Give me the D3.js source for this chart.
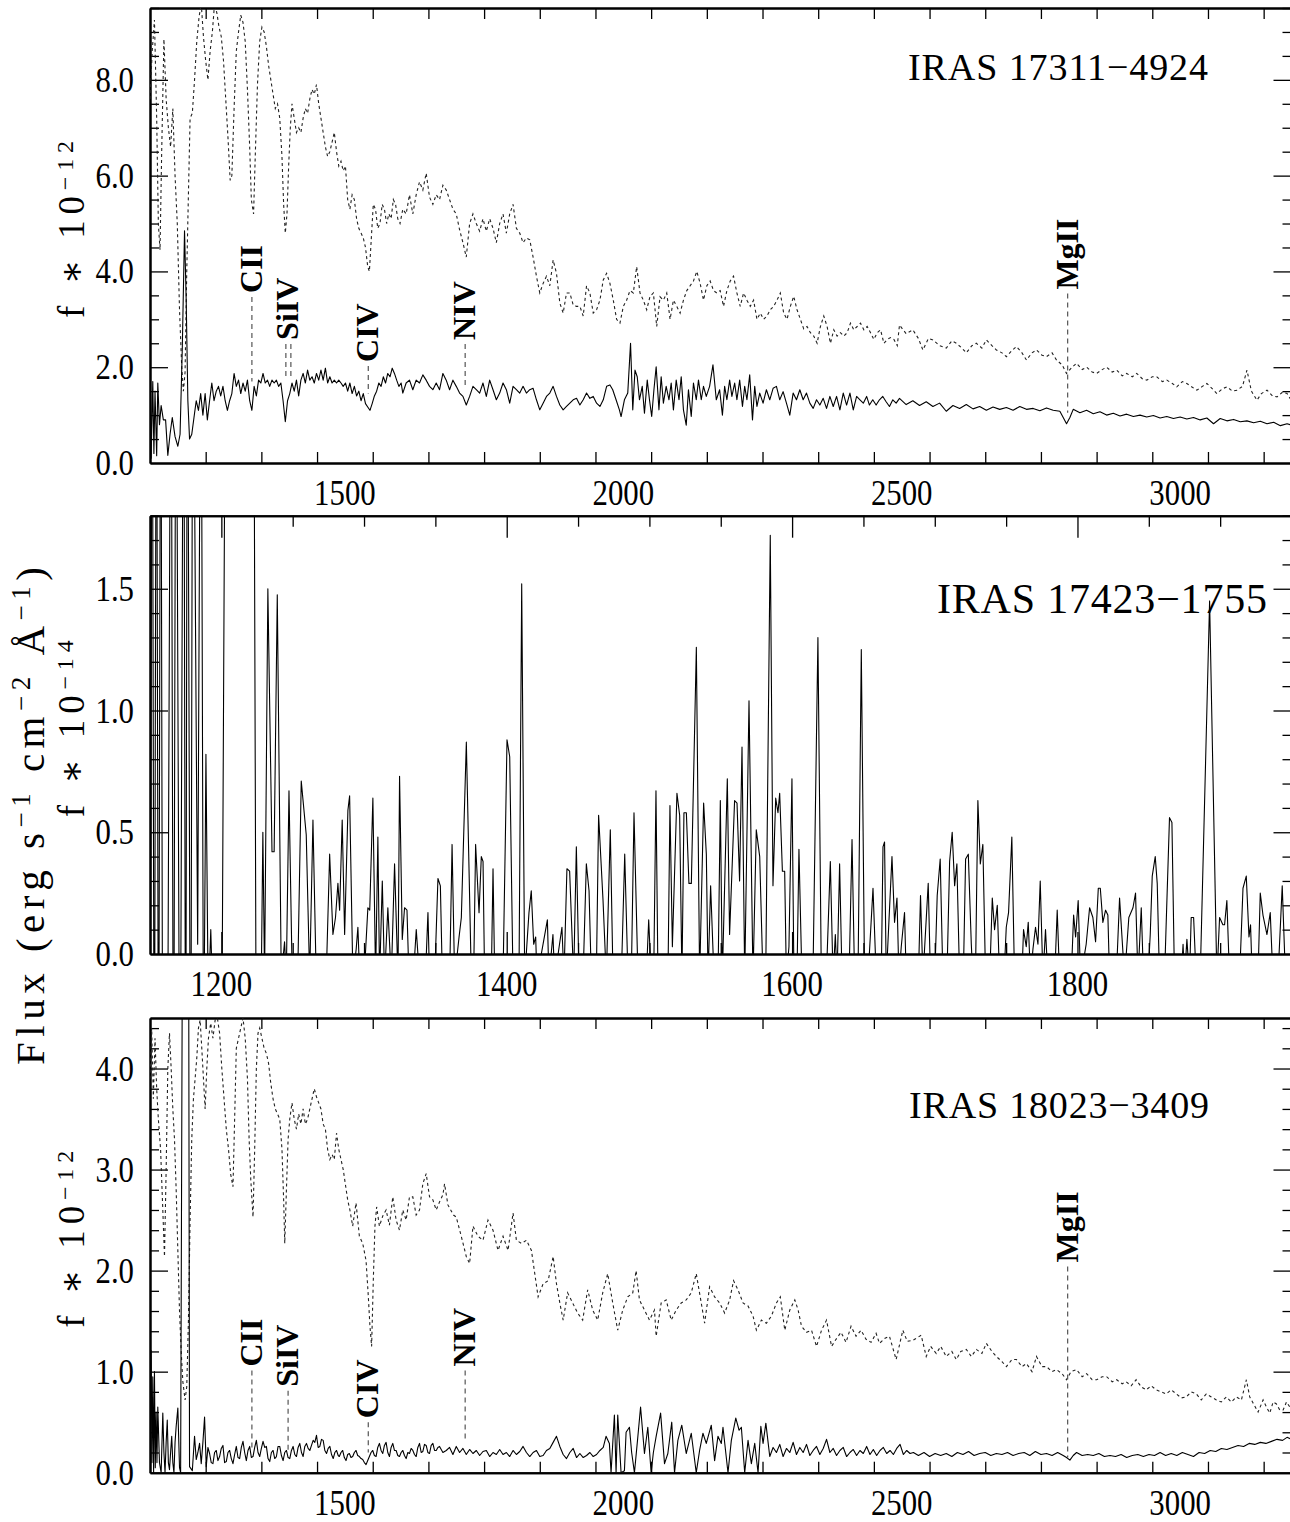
<!DOCTYPE html>
<html>
<head>
<meta charset="utf-8">
<script src="https://cdn.jsdelivr.net/npm/d3@7"></script>
<style>
  body { margin: 0; background: #fff; }
  text { font-family: "Liberation Serif", "DejaVu Serif", serif; fill: #000; }
</style>
</head>
<body>
<svg id="chart" width="1290" height="1522"></svg>
<script>
// ---- data (wavelength in A, flux in panel units) ----

var wideRange = [1150, 3200];
var narrowRange = [1150, 1950];
var wideXLabels = [1500, 2000, 2500, 3000];
var narrowXLabels = [1200, 1400, 1600, 1800];
var yLabels1 = [0, 2, 4, 6, 8];
var yLabels2 = [0, 0.5, 1.0, 1.5];
var yLabels3 = [0, 1, 2, 3, 4];
var yMax = [9.5, 1.8, 4.5];
var objectNames = ["IRAS 17311\u22124924", "IRAS 17423\u22121755", "IRAS 18023\u22123409"];
var fluxExponents = ["\u221212", "\u221214", "\u221212"];

var lineNames = ["CII", "SiIV", "CIV", "NIV", "MgII"];
var lineWaves = [1333, 1398, 1542, 1716, 2798];
var siivDoublet = [1394, 1403];
var idTop1 = [3.55, 2.57, 2.11, 2.57, 3.62];
var idEnd1 = [1.7, 1.8, 1.45, 1.55, 1.05];
var idTop3 = [1.05, 0.85, 0.54, 1.05, 2.08];
var idEnd3 = [0.22, 0.2, 0.2, 0.3, 0.15];

// IRAS 17311-4924: comparison (dotted) and object (solid)
var p1Dotted = [[1150,7.6],[1154,8.6],[1158,9.25],[1162,7.2],[1165,5.0],[1168,4.45],[1171,6.5],[1175,8.85],[1179,7.6],[1183,7.0],[1187,6.6],[1191,7.4],[1195,6.0],[1199,5.0],[1203,3.2],[1207,2.0],[1210,1.5],[1213,1.9],[1216,4.0],[1219,5.6],[1222,7.2],[1226,7.3],[1230,8.0],[1234,8.8],[1238,9.3],[1242,9.6],[1246,8.9],[1250,8.4],[1254,8.0],[1258,8.6],[1262,9.0],[1266,9.6],[1270,9.4],[1274,9.1],[1278,8.9],[1282,8.4],[1286,7.6],[1290,6.8],[1294,5.9],[1297,6.0],[1301,7.4],[1305,8.6],[1309,9.0],[1313,9.35],[1317,9.2],[1321,8.8],[1325,7.8],[1329,6.6],[1332,5.5],[1336,5.2],[1339,6.4],[1343,7.9],[1347,8.8],[1351,9.1],[1355,9.0],[1359,8.7],[1363,8.3],[1367,8.0],[1371,7.7],[1375,7.4],[1379,7.5],[1383,7.2],[1387,6.4],[1390,5.4],[1393,4.8],[1396,5.2],[1399,6.2],[1402,7.0],[1405,7.5],[1409,7.2],[1413,6.9],[1417,7.0],[1421,6.9],[1425,7.2],[1429,7.4],[1433,7.3],[1437,7.6],[1441,7.8],[1445,7.7],[1449,7.9],[1453,7.5],[1457,7.2],[1461,6.9],[1465,6.6],[1469,6.4],[1473,6.5],[1477,6.7],[1481,6.9],[1485,6.5],[1489,6.2],[1493,6.3],[1497,6.1],[1501,6.2],[1505,5.5],[1509,5.3],[1513,5.6],[1517,5.5],[1521,5.1],[1525,4.9],[1529,4.8],[1533,4.7],[1537,4.5],[1541,4.1],[1544,4.0],[1547,4.6],[1551,5.4],[1555,5.3],[1559,4.9],[1563,5.0],[1567,5.4],[1571,5.3],[1575,5.0],[1579,5.2],[1583,5.1],[1587,5.5],[1591,5.4],[1595,5.1],[1599,5.0],[1604,5.3],[1610,5.2],[1616,5.6],[1622,5.2],[1628,5.6],[1634,5.87],[1640,5.7],[1646,6.05],[1652,5.55],[1658,5.4],[1664,5.6],[1670,5.5],[1676,5.8],[1682,5.7],[1688,5.5],[1694,5.3],[1700,5.2],[1706,4.87],[1712,4.6],[1718,4.3],[1724,5.0],[1730,5.2],[1736,5.0],[1742,4.84],[1748,5.1],[1754,4.84],[1760,5.1],[1766,4.9],[1772,4.6],[1778,5.0],[1784,5.2],[1790,4.8],[1796,5.2],[1802,5.4],[1808,4.9],[1814,4.8],[1820,4.6],[1826,4.7],[1832,4.66],[1838,4.3],[1844,3.9],[1850,3.55],[1856,3.75],[1862,3.9],[1868,3.7],[1874,4.24],[1880,3.96],[1886,3.34],[1892,3.13],[1898,3.55],[1904,3.55],[1910,3.3],[1916,3.27],[1922,3.27],[1928,3.07],[1934,3.7],[1940,3.55],[1946,3.13],[1952,3.2],[1958,3.4],[1964,3.82],[1970,3.96],[1976,3.75],[1982,3.4],[1988,3.0],[1994,2.92],[2000,3.27],[2006,3.4],[2012,3.6],[2018,3.55],[2024,4.1],[2030,3.55],[2036,3.4],[2042,3.2],[2048,3.48],[2054,3.55],[2060,2.85],[2066,3.47],[2072,3.4],[2078,3.55],[2084,3.0],[2090,3.4],[2096,3.27],[2102,3.13],[2108,3.4],[2114,3.6],[2120,3.7],[2126,3.8],[2132,4.0],[2138,3.75],[2144,3.4],[2150,3.7],[2156,3.8],[2162,3.6],[2168,3.55],[2174,3.6],[2180,3.27],[2186,3.6],[2192,3.8],[2198,3.9],[2204,3.55],[2210,3.27],[2216,3.55],[2222,3.4],[2228,3.27],[2234,3.4],[2240,3.0],[2246,3.13],[2252,3.0],[2258,3.07],[2264,3.2],[2270,3.27],[2276,3.4],[2282,3.55],[2288,3.13],[2294,3.0],[2300,3.27],[2306,3.48],[2312,3.2],[2318,3.0],[2324,2.8],[2330,2.85],[2336,2.72],[2342,2.65],[2348,2.5],[2354,2.85],[2360,3.07],[2366,2.85],[2372,2.5],[2378,2.78],[2384,2.65],[2390,2.72],[2396,2.65],[2402,2.72],[2408,2.92],[2414,2.78],[2420,2.85],[2426,2.92],[2432,2.78],[2438,2.85],[2444,2.72],[2450,2.58],[2456,2.72],[2462,2.78],[2468,2.5],[2474,2.58],[2480,2.62],[2486,2.58],[2492,2.45],[2496,2.88],[2508,2.7],[2520,2.78],[2530,2.6],[2538,2.36],[2548,2.6],[2556,2.57],[2568,2.45],[2580,2.4],[2590,2.55],[2598,2.5],[2608,2.4],[2616,2.3],[2626,2.45],[2634,2.5],[2644,2.4],[2652,2.57],[2662,2.45],[2670,2.36],[2680,2.3],[2688,2.22],[2698,2.35],[2706,2.43],[2716,2.3],[2724,2.15],[2734,2.3],[2742,2.36],[2752,2.25],[2760,2.22],[2770,2.3],[2778,2.15],[2788,2.05],[2796,1.87],[2806,2.0],[2814,2.08],[2824,1.95],[2832,2.0],[2842,1.9],[2850,1.87],[2860,1.95],[2868,2.0],[2878,1.9],[2886,1.94],[2896,1.82],[2904,1.87],[2914,1.8],[2922,1.87],[2932,1.76],[2940,1.73],[2950,1.8],[2958,1.8],[2968,1.7],[2976,1.73],[2986,1.66],[2994,1.59],[3004,1.7],[3012,1.66],[3022,1.58],[3030,1.52],[3040,1.6],[3048,1.66],[3058,1.55],[3066,1.45],[3076,1.55],[3084,1.59],[3094,1.5],[3102,1.52],[3112,1.6],[3120,1.94],[3128,1.5],[3138,1.31],[3146,1.45],[3156,1.52],[3166,1.4],[3174,1.38],[3184,1.48],[3192,1.45],[3200,1.3]];

var p1Solid = [[1150,2.4],[1152,0.1],[1155,1.7],[1157,0.2],[1159,1.5],[1162,0.15],[1164,1.67],[1167,0.8],[1170,1.2],[1174,0.9],[1178,0.9],[1182,0.16],[1186,0.6],[1190,0.95],[1195,0.55],[1200,0.35],[1204,0.6],[1208,2.4],[1212,4.85],[1215,3.4],[1218,1.3],[1221,0.5],[1225,0.6],[1229,0.95],[1233,1.3],[1237,1.1],[1241,1.45],[1245,1.0],[1249,1.45],[1253,0.9],[1257,1.3],[1261,1.67],[1265,1.3],[1269,1.5],[1273,1.6],[1277,1.4],[1281,1.6],[1285,1.3],[1289,1.1],[1293,1.3],[1297,1.45],[1301,1.87],[1305,1.6],[1309,1.73],[1313,1.45],[1317,1.67],[1321,1.5],[1325,1.73],[1329,1.3],[1333,1.1],[1337,1.6],[1341,1.4],[1345,1.73],[1349,1.67],[1353,1.87],[1357,1.67],[1361,1.73],[1365,1.6],[1369,1.73],[1373,1.67],[1377,1.73],[1381,1.6],[1385,1.67],[1389,1.3],[1393,0.86],[1397,1.3],[1401,1.45],[1405,1.67],[1409,1.5],[1413,1.73],[1417,1.4],[1421,1.73],[1425,1.87],[1429,1.67],[1433,1.94],[1437,1.73],[1441,1.8],[1445,1.67],[1449,1.87],[1453,1.73],[1457,1.94],[1461,1.73],[1465,1.98],[1469,1.67],[1473,1.8],[1477,1.67],[1481,1.73],[1485,1.67],[1489,1.73],[1493,1.67],[1497,1.6],[1501,1.67],[1505,1.5],[1509,1.67],[1513,1.45],[1517,1.6],[1521,1.4],[1525,1.5],[1529,1.3],[1533,1.45],[1537,1.24],[1541,1.17],[1545,1.1],[1549,1.24],[1553,1.4],[1557,1.5],[1561,1.67],[1565,1.6],[1569,1.8],[1573,1.67],[1577,1.87],[1581,1.8],[1585,1.98],[1589,1.87],[1593,1.73],[1597,1.6],[1601,1.67],[1604,1.46],[1610,1.67],[1616,1.73],[1622,1.53],[1628,1.73],[1634,1.67],[1640,1.84],[1646,1.73],[1652,1.6],[1658,1.53],[1664,1.67],[1670,1.53],[1676,1.87],[1682,1.73],[1688,1.53],[1694,1.73],[1700,1.6],[1706,1.46],[1712,1.39],[1718,1.21],[1724,1.39],[1730,1.6],[1736,1.53],[1742,1.46],[1748,1.67],[1754,1.39],[1760,1.73],[1766,1.53],[1772,1.32],[1778,1.46],[1784,1.67],[1790,1.53],[1796,1.25],[1802,1.6],[1808,1.53],[1814,1.46],[1820,1.6],[1826,1.46],[1832,1.53],[1838,1.56],[1844,1.32],[1850,1.11],[1856,1.25],[1862,1.39],[1868,1.46],[1874,1.6],[1880,1.39],[1886,1.21],[1892,1.11],[1898,1.18],[1904,1.25],[1910,1.32],[1916,1.35],[1922,1.21],[1928,1.32],[1934,1.46],[1940,1.35],[1946,1.39],[1952,1.25],[1958,1.18],[1964,1.32],[1970,1.6],[1976,1.63],[1981,1.53],[1987,1.32],[1993,1.11],[1996,0.97],[2002,1.32],[2008,1.46],[2013,2.5],[2017,1.11],[2021,1.94],[2025,1.8],[2029,1.32],[2034,1.6],[2038,1.04],[2043,1.73],[2047,1.32],[2051,0.97],[2055,1.53],[2059,2.01],[2064,1.11],[2068,1.8],[2072,1.25],[2077,1.6],[2082,1.32],[2086,1.67],[2090,1.11],[2095,1.73],[2100,1.32],[2104,1.8],[2108,1.11],[2113,0.79],[2117,1.53],[2122,0.97],[2126,1.67],[2131,1.32],[2135,1.73],[2140,1.32],[2144,1.6],[2149,1.39],[2155,1.6],[2161,2.05],[2167,1.32],[2173,1.53],[2178,1.0],[2182,1.6],[2186,1.32],[2191,1.73],[2195,1.39],[2200,1.67],[2204,1.32],[2209,1.73],[2214,1.18],[2218,1.6],[2222,1.32],[2227,1.84],[2232,0.9],[2236,1.6],[2240,1.18],[2245,1.46],[2251,1.25],[2257,1.53],[2263,1.32],[2269,1.56],[2275,1.6],[2281,1.32],[2287,1.49],[2293,1.25],[2299,1.0],[2305,1.46],[2311,1.32],[2317,1.53],[2323,1.32],[2329,1.46],[2335,1.25],[2341,1.14],[2347,1.32],[2353,1.21],[2359,1.35],[2365,1.14],[2371,1.39],[2377,1.18],[2383,1.39],[2389,1.11],[2395,1.46],[2401,1.21],[2407,1.46],[2413,1.11],[2419,1.39],[2425,1.32],[2431,1.25],[2437,1.39],[2442,1.21],[2448,1.32],[2454,1.21],[2460,1.32],[2466,1.39],[2472,1.28],[2478,1.18],[2484,1.32],[2490,1.25],[2496,1.35],[2508,1.22],[2520,1.3],[2532,1.2],[2544,1.28],[2556,1.18],[2568,1.25],[2580,1.08],[2592,1.2],[2604,1.14],[2616,1.22],[2628,1.13],[2640,1.18],[2652,1.1],[2664,1.17],[2676,1.12],[2688,1.16],[2700,1.1],[2712,1.18],[2724,1.12],[2736,1.14],[2748,1.09],[2760,1.15],[2772,1.1],[2784,1.08],[2790,0.95],[2796,0.82],[2802,0.95],[2808,1.12],[2820,1.05],[2832,1.1],[2844,1.03],[2856,1.07],[2868,1.0],[2880,1.04],[2892,0.98],[2904,1.02],[2916,0.97],[2928,1.0],[2940,0.96],[2952,0.99],[2964,0.94],[2976,0.97],[2988,0.93],[3000,0.96],[3012,0.92],[3024,0.95],[3036,0.9],[3048,0.94],[3060,0.82],[3072,0.93],[3084,0.88],[3096,0.91],[3108,0.86],[3120,0.88],[3132,0.84],[3144,0.87],[3156,0.82],[3168,0.85],[3180,0.78],[3192,0.82],[3200,0.79]];

// IRAS 17423-1755: object only
var p2Solid = [[1150,-1],[1151.5,3],[1153,-1],[1154.5,3],[1156,-1],[1157.5,3],[1159,-1],[1162,-1],[1164.7,3],[1166.5,-1],[1168.2,3],[1171,-1],[1173.6,3],[1175,-1],[1176.2,3],[1178.5,-1],[1180,3],[1183.4,0.04],[1185.7,3],[1187.5,-0.5],[1189.2,0.82],[1190.8,-0.2],[1192.6,0.1],[1194,-0.2],[1200.5,-0.2],[1203.2,3],[1222.5,3],[1224.3,-0.2],[1228,-0.1],[1229.1,0.5],[1230.3,-0.1],[1232.6,1.5],[1235.5,0.42],[1237,0.42],[1239.2,1.475],[1242,-0.1],[1244.3,0.05],[1245.5,-0.1],[1247.4,0.67],[1249.7,-0.1],[1253.5,-0.1],[1256,0.71],[1259.5,0.49],[1261.9,-0.1],[1264.2,0.55],[1266.5,-0.1],[1273.5,-0.1],[1275.9,0.41],[1278.2,0.08],[1280,0.15],[1281.7,0.29],[1282.9,0.18],[1284.7,0.55],[1286.4,0.08],[1288.7,0.59],[1289.9,0.65],[1292.2,-0.1],[1294.5,0.02],[1295.7,0.11],[1297,-0.1],[1300.5,-0.05],[1302.7,0.19],[1304,0.18],[1306.2,0.64],[1308.1,-0.1],[1309.7,0.48],[1310.9,-0.1],[1312.8,0.3],[1314.4,-0.1],[1316.7,0.19],[1319.1,-0.1],[1321.4,0.37],[1323.8,-0.1],[1324.9,0.73],[1326.8,0.06],[1328.4,0.19],[1330.1,0.18],[1331.5,-0.1],[1334.5,-0.1],[1336.6,0.1],[1338.9,-0.1],[1343,-0.1],[1344.8,0.17],[1345.9,-0.1],[1349.5,-0.1],[1351.8,0.31],[1353.5,0.28],[1354.9,-0.1],[1360,-0.1],[1361.7,0.45],[1363.5,-0.1],[1366.6,0.07],[1368.2,0.15],[1371.7,0.87],[1375.2,-0.1],[1376.8,-0.1],[1378.2,0.45],[1380.6,0.17],[1382.2,0.4],[1383.4,0.38],[1384.5,-0.1],[1389.2,-0.1],[1390.4,0.35],[1391.6,-0.1],[1397.4,-0.1],[1400.2,0.88],[1402.1,0.81],[1404.4,-0.1],[1408.6,-0.1],[1410.5,1.52],[1412.6,-0.1],[1415.6,0.17],[1417.2,0.26],[1418.9,0.04],[1420.3,0.07],[1421.2,-0.1],[1428.5,0.14],[1429.6,-0.1],[1432.4,0.08],[1433.6,-0.1],[1438.7,0.11],[1440.1,-0.1],[1442.2,0.35],[1444.1,0.34],[1446.9,-0.1],[1448.8,0.44],[1450.7,-0.1],[1453.5,-0.1],[1455.8,0.37],[1457.7,0.26],[1459.3,-0.1],[1462.8,-0.1],[1464.4,0.57],[1467.5,0.22],[1469.8,-0.1],[1472.6,0.51],[1474.5,-0.1],[1480.3,-0.1],[1482.7,0.41],[1485,-0.1],[1487.3,-0.1],[1489.2,0.58],[1492,-0.1],[1497.8,-0.1],[1499.5,0.14],[1501.3,-0.1],[1503,-0.1],[1504.6,0.67],[1506,-0.1],[1513,-0.1],[1514.4,0.61],[1516.1,0.03],[1519.3,0.66],[1521.2,0.57],[1522.8,-0.1],[1524.2,0.58],[1525.9,0.58],[1527.7,0.29],[1529.4,0.29],[1532.9,1.26],[1535.2,-0.1],[1538,0.62],[1539.9,0.41],[1541.1,-0.1],[1542.9,0.28],[1545.3,-0.1],[1548.1,-0.1],[1549.7,0.63],[1551.1,-0.1],[1554.6,0.72],[1556.2,0.08],[1559.7,0.63],[1561.4,0.62],[1563.2,0.3],[1564.9,0.85],[1566.8,-0.1],[1569.8,1.04],[1572.6,-0.1],[1574.9,0.51],[1577.3,0.4],[1579.6,-0.1],[1581.5,-0.1],[1584.7,1.72],[1586.6,0.28],[1588.5,0.64],[1590.1,0.58],[1591.3,0.66],[1593.2,0.34],[1594.8,0.34],[1596,-0.1],[1597.8,0.03],[1599.9,0.72],[1601.3,-0.1],[1603.4,-0.1],[1604.8,0.43],[1606.9,-0.1],[1614.6,-0.1],[1618.1,1.3],[1620.5,-0.1],[1624,-0.1],[1626.8,0.38],[1628.7,-0.1],[1630.3,0.08],[1631.5,-0.1],[1633.3,0.37],[1635,-0.1],[1639.9,-0.1],[1642,0.47],[1643.8,-0.1],[1646.2,-0.1],[1648.5,1.25],[1650.8,-0.1],[1653.2,-0.1],[1656.7,0.27],[1659,-0.1],[1662.5,-0.1],[1663.7,0.44],[1664.8,0.46],[1666,-0.1],[1670,0.4],[1671.8,0.13],[1673.5,0.23],[1674.9,-0.1],[1676.5,0.03],[1678.8,0.17],[1680,-0.1],[1688.5,-0.1],[1690,0.24],[1691.7,-0.1],[1695.4,0.29],[1697,-0.1],[1700.5,0.0],[1701.7,0.24],[1703.8,0.39],[1705.7,-0.1],[1708.5,-0.1],[1710.4,0.38],[1712.2,0.5],[1713.9,0.28],[1715.5,0.37],[1717.4,-0.1],[1720,-0.1],[1721.6,0.39],[1723.5,0.41],[1725.6,0.04],[1726.7,-0.1],[1728.5,-0.1],[1730.2,0.63],[1731.9,0.37],[1733.7,0.45],[1735.6,-0.1],[1738.5,-0.1],[1740.3,0.23],[1741.9,0.1],[1743.8,0.2],[1745.4,-0.1],[1748.5,-0.1],[1750.1,0.11],[1751.7,0.17],[1754,0.48],[1755.9,-0.1],[1761,-0.1],[1762.2,0.1],[1764.1,0.03],[1765.5,0.13],[1767.1,-0.1],[1768.8,0.02],[1770.6,0.11],[1772.3,0.04],[1773.9,0.3],[1775.8,-0.1],[1777.6,0.1],[1779.3,-0.1],[1784,-0.1],[1785.8,0.18],[1787.5,-0.1],[1795.6,-0.1],[1797.3,0.16],[1798.7,0.07],[1800.5,0.22],[1802.2,-0.1],[1806.1,0.04],[1808.5,0.19],[1810.8,0.15],[1812.7,0.05],[1814.6,0.27],[1816,0.27],[1817.8,0.13],[1819.7,0.18],[1821.3,0.16],[1822.5,-0.1],[1827.2,-0.1],[1829.5,0.23],[1833,-0.1],[1836,0.15],[1838.9,0.19],[1840.7,0.25],[1842.4,-0.1],[1844.7,0.19],[1846.3,-0.1],[1849.4,-0.1],[1851,0.08],[1852.4,0.32],[1854.5,0.4],[1855.9,0.29],[1857.5,-0.1],[1861,-0.1],[1862.2,0.13],[1864.5,0.56],[1866.2,0.54],[1868,-0.1],[1872.7,-0.1],[1874,0.04],[1875,-0.1],[1876.7,0.06],[1878.5,-0.1],[1879.7,0.15],[1881.4,0.15],[1883.2,-0.1],[1886,-0.1],[1892.6,1.45],[1897.7,-0.1],[1899.6,0.15],[1901.9,0.12],[1903.1,0.12],[1904.7,0.22],[1906.6,-0.1],[1913.6,-0.1],[1916,0.27],[1918.3,0.32],[1920.2,0.07],[1921.3,0.12],[1922.5,-0.1],[1926.5,-0.1],[1928.1,0.25],[1930,0.16],[1932.8,0.08],[1935.1,0.17],[1937,-0.1],[1940.5,-0.1],[1943.5,0.28],[1945.8,-0.1],[1950,-0.1]];

// IRAS 18023-3409: comparison (dotted) and object (solid)
var p3Dotted = [[1150,3.9],[1153,4.4],[1156,3.7],[1159,4.3],[1162,3.8],[1165,3.5],[1169,3.2],[1173,2.6],[1176,2.14],[1179,3.0],[1182,4.0],[1185,4.35],[1188,4.0],[1191,3.6],[1194,3.3],[1197,2.8],[1200,2.2],[1203,1.6],[1206,1.2],[1209,0.9],[1213,0.72],[1216,0.85],[1219,1.5],[1222,2.5],[1225,3.3],[1228,3.7],[1231,3.9],[1234,4.1],[1237,4.4],[1240,4.48],[1243,4.2],[1246,3.9],[1249,3.6],[1252,4.0],[1255,4.3],[1259,4.45],[1263,4.3],[1267,4.48],[1271,4.5],[1275,4.35],[1279,4.0],[1283,3.7],[1287,3.4],[1291,3.2],[1295,2.95],[1299,2.83],[1302,3.5],[1305,4.2],[1309,4.3],[1313,4.4],[1317,4.5],[1321,4.3],[1325,3.9],[1328,3.3],[1331,2.9],[1335,2.53],[1338,3.2],[1341,4.0],[1344,4.35],[1347,4.4],[1351,4.3],[1355,4.2],[1359,4.15],[1363,4.05],[1367,3.85],[1371,3.7],[1375,3.6],[1379,3.55],[1383,3.5],[1387,3.2],[1390,2.7],[1392,2.27],[1395,2.8],[1398,3.3],[1401,3.5],[1405,3.66],[1409,3.5],[1413,3.4],[1417,3.55],[1421,3.45],[1425,3.6],[1429,3.45],[1433,3.5],[1437,3.6],[1441,3.7],[1445,3.8],[1449,3.72],[1453,3.66],[1457,3.6],[1461,3.45],[1465,3.4],[1469,3.2],[1473,3.1],[1477,3.15],[1481,3.1],[1485,3.36],[1489,3.2],[1493,3.1],[1497,3.0],[1501,2.85],[1505,2.7],[1509,2.6],[1514,2.44],[1520,2.67],[1526,2.34],[1532,2.27],[1538,2.1],[1542,1.75],[1545,1.45],[1548,1.25],[1551,1.9],[1554,2.44],[1557,2.63],[1562,2.44],[1568,2.54],[1574,2.6],[1580,2.45],[1586,2.73],[1592,2.5],[1598,2.4],[1604,2.6],[1610,2.5],[1616,2.73],[1622,2.73],[1628,2.55],[1634,2.6],[1640,2.86],[1646,2.96],[1652,2.73],[1658,2.7],[1664,2.6],[1670,2.68],[1676,2.75],[1679,2.86],[1685,2.65],[1690,2.6],[1695,2.55],[1700,2.53],[1709,2.34],[1718,2.14],[1724,2.07],[1730,2.44],[1739,2.34],[1748,2.3],[1757,2.5],[1766,2.4],[1775,2.2],[1784,2.34],[1793,2.2],[1802,2.57],[1808,2.3],[1817,2.27],[1826,2.3],[1835,2.2],[1841,1.97],[1847,1.74],[1856,1.87],[1865,1.9],[1874,2.14],[1880,1.87],[1886,1.68],[1892,1.51],[1900,1.78],[1909,1.68],[1918,1.58],[1927,1.51],[1936,1.81],[1945,1.61],[1954,1.51],[1963,1.78],[1972,1.97],[1981,1.68],[1990,1.41],[1999,1.61],[2008,1.74],[2017,1.78],[2023,2.0],[2029,1.71],[2038,1.61],[2047,1.51],[2056,1.61],[2059,1.35],[2068,1.68],[2077,1.71],[2086,1.51],[2095,1.61],[2104,1.68],[2113,1.71],[2122,1.78],[2131,1.97],[2140,1.68],[2146,1.48],[2155,1.84],[2164,1.74],[2173,1.68],[2182,1.58],[2191,1.71],[2198,1.9],[2206,1.81],[2215,1.68],[2224,1.65],[2233,1.55],[2239,1.41],[2248,1.51],[2257,1.48],[2266,1.55],[2275,1.68],[2282,1.74],[2290,1.41],[2299,1.61],[2308,1.71],[2314,1.61],[2320,1.45],[2329,1.39],[2338,1.41],[2347,1.25],[2356,1.41],[2365,1.51],[2374,1.25],[2382,1.32],[2391,1.39],[2400,1.29],[2409,1.45],[2418,1.35],[2427,1.41],[2436,1.32],[2445,1.29],[2454,1.38],[2460,1.28],[2470,1.33],[2478,1.35],[2490,1.12],[2502,1.41],[2510,1.3],[2520,1.31],[2535,1.36],[2544,1.15],[2552,1.25],[2562,1.18],[2570,1.25],[2580,1.15],[2590,1.2],[2598,1.12],[2606,1.2],[2616,1.22],[2625,1.15],[2634,1.22],[2644,1.18],[2652,1.28],[2662,1.2],[2670,1.15],[2680,1.1],[2688,1.05],[2698,1.12],[2706,1.12],[2716,1.05],[2724,1.08],[2734,1.0],[2742,1.15],[2752,1.05],[2760,1.05],[2770,1.0],[2778,1.02],[2788,0.98],[2796,0.92],[2804,1.0],[2814,1.02],[2824,0.95],[2832,0.98],[2842,0.92],[2850,0.92],[2860,0.95],[2868,0.95],[2878,0.9],[2886,0.92],[2896,0.88],[2903,0.9],[2912,0.86],[2921,0.92],[2930,0.85],[2939,0.82],[2948,0.86],[2957,0.82],[2966,0.8],[2975,0.78],[2984,0.82],[2993,0.78],[3002,0.74],[3011,0.75],[3020,0.8],[3029,0.78],[3038,0.72],[3047,0.78],[3056,0.75],[3065,0.72],[3074,0.7],[3083,0.75],[3092,0.7],[3101,0.75],[3110,0.72],[3119,0.92],[3125,0.75],[3131,0.69],[3140,0.6],[3149,0.72],[3155,0.65],[3161,0.59],[3167,0.7],[3173,0.68],[3179,0.62],[3185,0.62],[3191,0.7],[3197,0.65],[3200,0.6]];

var p3Solid = [[1150,0.2],[1152,1.21],[1153.5,0.1],[1155,0.95],[1156.5,0.0],[1158,1.0],[1159.5,0.05],[1161,0.6],[1162.5,0.1],[1164,0.65],[1167,0.1],[1170,0.0],[1173,0.59],[1175,0.2],[1177,0.0],[1179,0.3],[1181,0.52],[1183,0.1],[1185,0.03],[1187,0.2],[1189,0.36],[1191,0.1],[1193,0.0],[1195,0.3],[1197,0.46],[1200,0.64],[1203,0.05],[1205,0.0],[1208,5.0],[1219.5,5.0],[1221,0.06],[1226,0.02],[1230,0.36],[1233,0.13],[1236,0.2],[1239,0.29],[1242,0.09],[1245,0.3],[1248,0.55],[1251,0.06],[1254,0.25],[1257,0.19],[1260,0.1],[1263,0.09],[1266,0.2],[1269,0.22],[1272,0.12],[1275,0.16],[1278,0.24],[1281,0.27],[1284,0.1],[1287,0.11],[1290,0.2],[1293,0.22],[1296,0.14],[1299,0.09],[1302,0.18],[1305,0.26],[1308,0.15],[1311,0.14],[1314,0.25],[1317,0.31],[1320,0.2],[1323,0.12],[1326,0.22],[1329,0.26],[1332,0.15],[1335,0.16],[1338,0.25],[1341,0.32],[1344,0.2],[1347,0.16],[1350,0.24],[1353,0.31],[1356,0.25],[1359,0.26],[1362,0.14],[1365,0.11],[1368,0.2],[1371,0.22],[1374,0.14],[1377,0.16],[1380,0.26],[1383,0.26],[1386,0.17],[1389,0.12],[1392,0.2],[1395,0.22],[1398,0.15],[1401,0.14],[1404,0.22],[1407,0.26],[1410,0.18],[1413,0.16],[1416,0.25],[1419,0.29],[1422,0.2],[1425,0.16],[1428,0.26],[1431,0.29],[1434,0.24],[1437,0.22],[1440,0.27],[1443,0.32],[1446,0.3],[1449,0.37],[1452,0.25],[1455,0.26],[1458,0.33],[1461,0.32],[1464,0.22],[1467,0.19],[1470,0.24],[1473,0.26],[1476,0.18],[1479,0.14],[1482,0.2],[1485,0.22],[1488,0.17],[1490,0.16],[1493,0.2],[1496,0.22],[1499,0.15],[1502,0.12],[1505,0.18],[1508,0.19],[1511,0.15],[1514,0.16],[1517,0.2],[1520,0.22],[1523,0.17],[1526,0.16],[1529,0.14],[1532,0.13],[1535,0.1],[1538,0.08],[1541,0.12],[1544,0.16],[1547,0.2],[1550,0.22],[1553,0.17],[1556,0.16],[1559,0.25],[1562,0.29],[1565,0.22],[1568,0.19],[1571,0.27],[1574,0.3],[1577,0.2],[1580,0.16],[1583,0.25],[1586,0.29],[1589,0.22],[1592,0.22],[1595,0.17],[1598,0.16],[1601,0.2],[1604,0.22],[1607,0.17],[1610,0.14],[1613,0.2],[1616,0.19],[1619,0.24],[1622,0.22],[1625,0.18],[1628,0.16],[1631,0.25],[1634,0.29],[1637,0.2],[1640,0.21],[1643,0.28],[1646,0.27],[1649,0.2],[1652,0.19],[1655,0.27],[1658,0.29],[1661,0.22],[1664,0.22],[1667,0.25],[1670,0.26],[1676,0.2],[1682,0.22],[1688,0.25],[1694,0.18],[1700,0.26],[1706,0.2],[1712,0.24],[1718,0.18],[1724,0.23],[1730,0.19],[1736,0.22],[1742,0.17],[1748,0.21],[1754,0.22],[1760,0.16],[1766,0.2],[1772,0.18],[1778,0.23],[1784,0.18],[1790,0.2],[1796,0.16],[1802,0.22],[1808,0.18],[1814,0.21],[1820,0.26],[1826,0.2],[1832,0.16],[1838,0.2],[1844,0.22],[1850,0.16],[1856,0.17],[1862,0.22],[1868,0.24],[1874,0.3],[1880,0.36],[1886,0.26],[1892,0.18],[1898,0.14],[1904,0.2],[1910,0.24],[1916,0.15],[1922,0.19],[1928,0.15],[1934,0.17],[1940,0.2],[1946,0.16],[1952,0.18],[1958,0.22],[1964,0.25],[1969,0.36],[1975,0.29],[1978,0.0],[1984,0.57],[1987,0.0],[1990,0.57],[1996,0.0],[2002,0.02],[2005,0.4],[2011,0.45],[2015,0.2],[2020,0.0],[2026,0.35],[2031,0.65],[2038,0.19],[2044,0.45],[2050,0.0],[2054,0.2],[2059,0.36],[2067,0.59],[2074,0.09],[2080,0.19],[2087,0.5],[2092,0.0],[2098,0.32],[2105,0.47],[2113,0.19],[2118,0.3],[2122,0.39],[2131,0.0],[2137,0.22],[2143,0.39],[2149,0.29],[2158,0.47],[2164,0.12],[2170,0.36],[2176,0.29],[2179,0.45],[2188,0.0],[2194,0.32],[2202,0.54],[2208,0.42],[2212,0.45],[2218,0.0],[2224,0.32],[2230,0.09],[2236,0.29],[2242,0.0],[2247,0.46],[2251,0.29],[2256,0.49],[2263,0.16],[2269,0.25],[2275,0.2],[2281,0.28],[2287,0.16],[2293,0.24],[2299,0.2],[2305,0.3],[2311,0.18],[2317,0.25],[2323,0.2],[2329,0.28],[2335,0.17],[2341,0.22],[2347,0.26],[2353,0.18],[2359,0.24],[2365,0.33],[2371,0.2],[2377,0.24],[2383,0.17],[2389,0.22],[2395,0.25],[2401,0.16],[2407,0.2],[2413,0.23],[2419,0.17],[2425,0.22],[2431,0.19],[2437,0.26],[2443,0.18],[2449,0.23],[2455,0.17],[2461,0.22],[2467,0.25],[2473,0.19],[2479,0.22],[2485,0.18],[2491,0.24],[2497,0.28],[2503,0.18],[2509,0.22],[2515,0.19],[2521,0.2],[2530,0.17],[2540,0.2],[2550,0.16],[2560,0.19],[2570,0.17],[2580,0.19],[2590,0.16],[2600,0.2],[2610,0.18],[2620,0.21],[2630,0.17],[2640,0.19],[2650,0.2],[2660,0.17],[2670,0.19],[2680,0.18],[2690,0.2],[2700,0.17],[2710,0.19],[2720,0.2],[2730,0.17],[2740,0.21],[2750,0.18],[2760,0.19],[2770,0.17],[2780,0.2],[2790,0.17],[2796,0.15],[2802,0.125],[2808,0.17],[2814,0.2],[2824,0.17],[2834,0.18],[2844,0.17],[2854,0.19],[2864,0.16],[2874,0.17],[2884,0.16],[2894,0.18],[2904,0.15],[2914,0.17],[2924,0.18],[2934,0.16],[2944,0.18],[2954,0.17],[2964,0.2],[2974,0.17],[2984,0.19],[2994,0.17],[3004,0.2],[3014,0.18],[3024,0.16],[3034,0.2],[3044,0.19],[3054,0.22],[3064,0.21],[3074,0.24],[3084,0.23],[3094,0.25],[3104,0.27],[3114,0.26],[3124,0.29],[3134,0.28],[3144,0.3],[3154,0.29],[3164,0.31],[3174,0.33],[3184,0.32],[3192,0.35],[3200,0.33]];

// ---- layout ----
var svg = d3.select("#chart");
var LEFT = 150, RIGHT = 1291.5;
var fmt1 = d3.format(".1f");

var panels = [
  { top: 8, bottom: 463, xr: wideRange, ymax: yMax[0], xMinor: 100, xMajor: 500,
    yMinor: 0.5, yMajor: 2, xl: wideXLabels, yl: yLabels1, dotted: p1Dotted, solid: p1Solid,
    name: objectNames[0], nameX: 908, nameY: 80, nameSize: 38, nameLen: 300,
    exp: fluxExponents[0], ids: { top: idTop1, end: idEnd1, doublet: true } },
  { top: 515.7, bottom: 954, xr: narrowRange, ymax: yMax[1], xMinor: 50, xMajor: 200,
    yMinor: 0.1, yMajor: 0.5, xl: narrowXLabels, yl: yLabels2, dotted: null, solid: p2Solid,
    name: objectNames[1], nameX: 937, nameY: 613, nameSize: 42, nameLen: 330,
    exp: fluxExponents[1], ids: null },
  { top: 1018, bottom: 1472.7, xr: wideRange, ymax: yMax[2], xMinor: 100, xMajor: 500,
    yMinor: 0.2, yMajor: 1, xl: wideXLabels, yl: yLabels3, dotted: p3Dotted, solid: p3Solid,
    name: objectNames[2], nameX: 909, nameY: 1118, nameSize: 38, nameLen: 300,
    exp: fluxExponents[2], ids: { top: idTop3, end: idEnd3, doublet: false } }
];

function isMultiple(v, step) {
  var r = v / step;
  return Math.abs(r - Math.round(r)) < 1e-6;
}

// ticks pointing into the frame, drawn with d3 axes
function tickAxis(axisFn, scale, values, size) {
  return axisFn(scale).tickValues(values).tickSize(size).tickSizeOuter(0).tickFormat("");
}

function styleAxis(g) {
  g.select(".domain").attr("stroke", "#000").attr("stroke-width", 2);
  g.selectAll(".tick line").attr("stroke", "#000").attr("stroke-width", 1.3);
}

panels.forEach(function (p, i) {
  var x = d3.scaleLinear().domain(p.xr).range([LEFT, RIGHT]);
  var y = d3.scaleLinear().domain([0, p.ymax]).range([p.bottom, p.top]);
  var g = svg.append("g").attr("class", "panel");

  var clipId = "clip" + i;
  svg.append("clipPath").attr("id", clipId)
    .append("rect").attr("x", LEFT).attr("y", p.top)
    .attr("width", RIGHT - LEFT).attr("height", p.bottom - p.top);

  var xAll = d3.range(p.xr[0], p.xr[1] + 1, p.xMinor).filter(function (v) { return v > p.xr[0]; });
  var xMaj = xAll.filter(function (v) { return isMultiple(v, p.xMajor); });
  var xMin = xAll.filter(function (v) { return !isMultiple(v, p.xMajor); });
  var yAll = d3.range(0, p.ymax + 1e-9, p.yMinor).map(function (v) { return +v.toFixed(3); })
    .filter(function (v) { return v > 0; });
  var yMaj = yAll.filter(function (v) { return isMultiple(v, p.yMajor); });
  var yMin = yAll.filter(function (v) { return !isMultiple(v, p.yMajor); });

  [[d3.axisBottom, p.bottom], [d3.axisTop, p.top]].forEach(function (a) {
    g.append("g").attr("transform", "translate(0," + a[1] + ")")
      .call(tickAxis(a[0], x, xMin, -11)).call(styleAxis);
    g.append("g").attr("transform", "translate(0," + a[1] + ")")
      .call(tickAxis(a[0], x, xMaj, -22)).call(styleAxis);
  });
  [[d3.axisLeft, LEFT], [d3.axisRight, RIGHT]].forEach(function (a) {
    g.append("g").attr("transform", "translate(" + a[1] + ",0)")
      .call(tickAxis(a[0], y, yMin, -9)).call(styleAxis);
    g.append("g").attr("transform", "translate(" + a[1] + ",0)")
      .call(tickAxis(a[0], y, yMaj, -18)).call(styleAxis);
  });

  // tick labels (tall, slightly condensed digits)
  g.selectAll(".xlab").data(p.xl).enter().append("text")
    .attr("class", "xlab")
    .attr("transform", function (d) { return "translate(" + x(d) + "," + (p.bottom + 42) + ") scale(0.88,1)"; })
    .attr("text-anchor", "middle")
    .attr("font-size", 35)
    .text(function (d) { return d; });

  g.selectAll(".ylab").data(p.yl).enter().append("text")
    .attr("class", "ylab")
    .attr("transform", function (d) { return "translate(134," + (y(d) + 12) + ") scale(0.88,1)"; })
    .attr("text-anchor", "end")
    .attr("font-size", 35)
    .text(function (d) { return fmt1(d); });

  // per-panel scale label  f * 10^-n
  var ft = g.append("text")
    .attr("transform", "translate(84," + ((p.top + p.bottom) / 2 - 6) + ") rotate(-90)")
    .attr("text-anchor", "middle")
    .attr("font-size", 37)
    .attr("textLength", 177)
    .attr("lengthAdjust", "spacing");
  ft.append("tspan").text("f \u2217 10");
  ft.append("tspan").attr("dy", -11).attr("font-size", 24).text(p.exp);

  // spectra
  var line = d3.line().x(function (d) { return x(d[0]); }).y(function (d) { return y(d[1]); });
  var plot = g.append("g").attr("clip-path", "url(#" + clipId + ")");
  if (p.dotted) {
    plot.append("path").datum(p.dotted)
      .attr("d", line).attr("fill", "none")
      .attr("stroke", "#222").attr("stroke-width", 1.1)
      .attr("stroke-dasharray", "3,3");
  }
  plot.append("path").datum(p.solid)
    .attr("d", line).attr("fill", "none")
    .attr("stroke", "#000").attr("stroke-width", 1.1)
    .attr("stroke-linejoin", "round");

  // object name
  g.append("text")
    .attr("x", p.nameX).attr("y", p.nameY)
    .attr("font-size", p.nameSize)
    .attr("textLength", p.nameLen)
    .attr("lengthAdjust", "spacing")
    .text(p.name);

  // line identifications
  if (p.ids) {
    lineNames.forEach(function (nm, k) {
      var yt = y(p.ids.top[k]);
      var ye = y(p.ids.end[k]);
      var xs = (p.ids.doublet && nm === "SiIV") ? siivDoublet : [lineWaves[k]];
      xs.forEach(function (w) {
        g.append("line")
          .attr("x1", x(w)).attr("x2", x(w))
          .attr("y1", yt + 4).attr("y2", ye)
          .attr("stroke", "#555").attr("stroke-width", 1.2)
          .attr("stroke-dasharray", "5,4");
      });
      g.append("text")
        .attr("transform", "translate(" + (x(lineWaves[k]) + 10) + "," + yt + ") rotate(-90)")
        .attr("font-size", 32)
        .attr("font-weight", "bold")
        .text(nm);
    });
  }
});

// shared flux label
var fl = svg.append("text")
  .attr("transform", "translate(44,816) rotate(-90)")
  .attr("text-anchor", "middle")
  .attr("font-size", 41)
  .attr("textLength", 498)
  .attr("lengthAdjust", "spacing");
fl.append("tspan").text("Flux (erg s");
fl.append("tspan").attr("dy", -14).attr("font-size", 27).text("\u22121");
fl.append("tspan").attr("dy", 14).text(" cm");
fl.append("tspan").attr("dy", -14).attr("font-size", 27).text("\u22122");
fl.append("tspan").attr("dy", 14).text(" \u00c5");
fl.append("tspan").attr("dy", -14).attr("font-size", 27).text("\u22121");
fl.append("tspan").attr("dy", 14).text(")");
</script>
</body>
</html>
